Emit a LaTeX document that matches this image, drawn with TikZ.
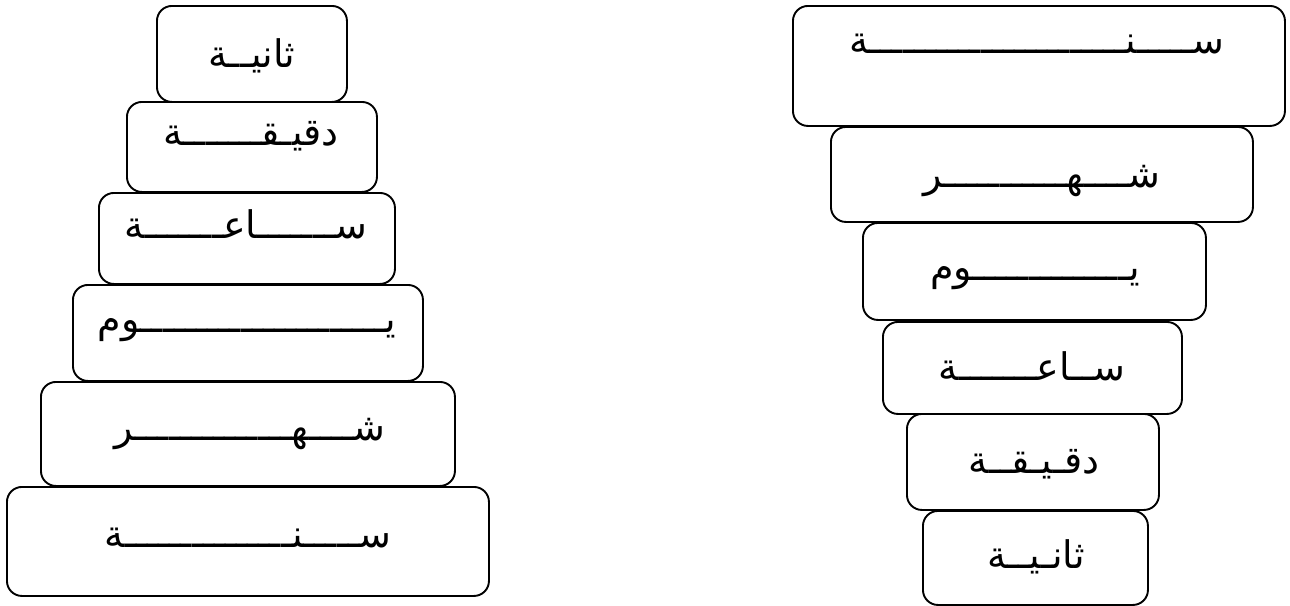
\documentclass[tikz,border=0pt]{standalone}
\usepackage{fontspec}
\TeXXeTstate=1
\newfontfamily\arabicfont[Script=Arabic]{DejaVu Sans}
\ExplSyntaxOn
\cs_new:Npn \kw #1 { \prg_replicate:nn {#1} {ـ} }
\ExplSyntaxOff
\begin{document}
\begin{tikzpicture}[x=1pt,y=-1pt,
  box/.style={draw, line width=1.9pt, rounded corners=15pt, inner sep=0pt, anchor=north west},
  lbl/.style={anchor=base, inner sep=0pt, font=\arabicfont\fontsize{38}{44}\selectfont}]
\useasboundingbox (0,0) rectangle (1290,605);
% left stack
\node[box, minimum width=190pt, minimum height=96pt] (L1) at (156,5) {};
\node[box, minimum width=250pt, minimum height=90pt] (L2) at (126,101) {};
\node[box, minimum width=296pt, minimum height=91pt] (L3) at (98,192) {};
\node[box, minimum width=350pt, minimum height=96pt] (L4) at (72,284) {};
\node[box, minimum width=414pt, minimum height=104pt] (L5) at (40,381) {};
\node[box, minimum width=482pt, minimum height=109pt] (L6) at (6,486) {};
\node[lbl] (L1t) at (252,67) {\beginR ثاني\kw{2}ة\endR};
\node[lbl] (L2t) at (251,145) {\beginR دقي\kw{1}ق\kw{7}ة\endR};
\node[lbl] (L3t) at (246,238) {\beginR س\kw{7}اع\kw{7}ة\endR};
\node[lbl] (L4t) at (247,332) {\beginR ي\kw{22}وم\endR};
\node[lbl] (L5t) at (250,440) {\beginR ش\kw{4}ه\kw{14}ر\endR};
\node[lbl] (L6t) at (248,547) {\beginR س\kw{5}ن\kw{15}ة\endR};
% right stack
\node[box, minimum width=492pt, minimum height=120pt] (R1) at (792,5) {};
\node[box, minimum width=422pt, minimum height=95pt] (R2) at (830,126) {};
\node[box, minimum width=343pt, minimum height=97pt] (R3) at (862,222) {};
\node[box, minimum width=299pt, minimum height=92pt] (R4) at (882,321) {};
\node[box, minimum width=252pt, minimum height=96pt] (R5) at (906,413) {};
\node[box, minimum width=225pt, minimum height=94pt] (R6) at (922,510) {};
\node[lbl] (R1t) at (1037,53) {\beginR س\kw{5}ن\kw{23}ة\endR};
\node[lbl] (R2t) at (1042,187) {\beginR ش\kw{4}ه\kw{11}ر\endR};
\node[lbl] (R3t) at (1035,280) {\beginR ي\kw{14}وم\endR};
\node[lbl] (R4t) at (1032,380) {\beginR س\kw{2}اع\kw{7}ة\endR};
\node[lbl] (R5t) at (1034,473) {\beginR دق\kw{1}ي\kw{1}ق\kw{2}ة\endR};
\node[lbl] (R6t) at (1036,568) {\beginR ثان\kw{1}ي\kw{2}ة\endR};
\end{tikzpicture}
\end{document}
